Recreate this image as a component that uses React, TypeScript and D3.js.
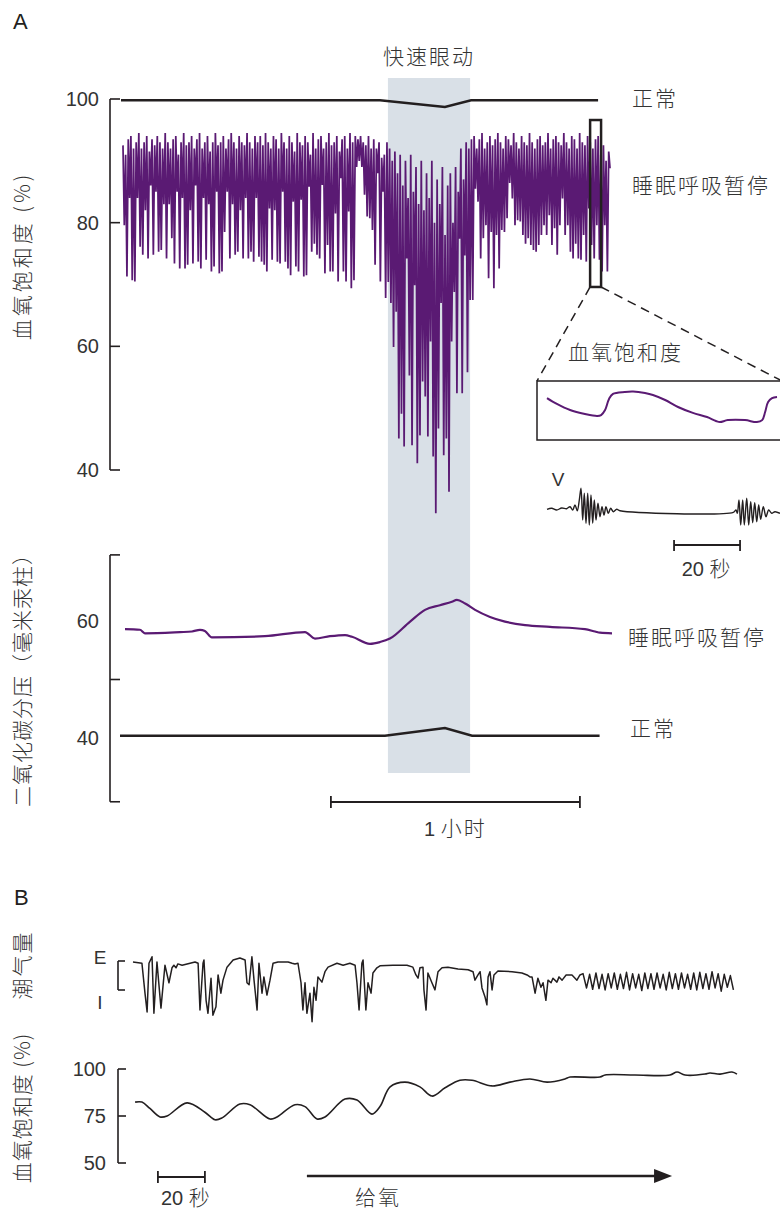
import React from "react";
import * as d3 from "d3";

// ---------------- Panel A: SaO2 (%) vs time (hours) ----------------
const remWindow = [1.076, 1.406];
const satTicks = [100, 80, 60, 40];
const normalSatTime = [0.004, 1.044, 1.305, 1.41, 1.92];
const normalSatValue = [99.8, 99.8, 98.7, 99.8, 99.8];
const apneaSpan = [0.012, 1.968];

const apneaHighs = [
  // before REM
  92.5, 91, 93.5, 94, 92, 93, 94.5, 92, 93, 94, 91.5, 93.5, 92.5, 94, 93, 92, 94.5, 93, 92, 93.5,
  94, 91, 93, 94.5, 92.5, 93, 94, 92, 93.5, 94.5, 92, 93, 94, 91.5, 93, 94.5, 92.5, 93, 94, 92,
  93.5, 94.5, 93, 92, 94, 93, 92.5, 94.5, 93, 92, 94,
  93, 94, 92.5, 94.5, 93, 92, 94, 93.5, 92, 94.5, 93, 92, 94, 93, 91.5, 94.5, 93, 92.5, 94, 93,
  91, 94.5, 92, 93.5, 94, 92, 93, 94.5, 92.5, 93, 94, 91.5, 93.5, 94, 92, 94.5, 93, 94, 93.5, 94,
  93, 92.5, 94, 92, 93.5, 92, 93, 90.5, 91,
  // REM
  93, 92, 90, 91.5, 88, 91, 86, 90, 84, 91, 85, 89, 83, 90, 82, 88, 84, 90, 80, 87,
  83, 89, 78, 86, 88, 80, 89, 85, 92, 87, 93, 92,
  // after REM
  93.5, 94, 92, 93.5, 94.5, 92, 93, 94, 92.5, 93.5, 94.5, 93, 92, 94, 93.5, 92.5, 94.5, 93, 92, 94,
  93, 92.5, 94.5, 93, 92, 93.5, 94, 92.5, 93, 94.5, 92, 93.5, 94, 93, 92.5, 94.5, 93, 92, 94, 93.5,
  92, 94.5, 93, 92.5, 94, 93, 92, 93.5, 94, 91, 92.5, 90, 91.5,
];
const apneaLows = [
  79.6, 71.3, 84, 70.7, 70.5, 84, 76.1, 74.8, 82, 74.2, 86, 74.8, 85, 75.3, 75.6, 83, 74.2, 83, 77.5, 73.4,
  85, 72.6, 84, 72.6, 73.2, 82, 73.4, 86, 73.7, 72.6, 84, 74.0, 83, 72.1, 72.9, 85, 71.8, 72.1, 78.5, 85,
  74.2, 83, 74.8, 75.3, 82, 74.2, 84, 74.2, 75.3, 73.7, 84,
  74.5, 73.7, 73.2, 72.1, 82.3, 74.0, 82.0, 73.7, 73.4, 85.0, 73.7, 72.6, 71.5, 83.4, 72.9, 72.1, 83.7, 71.3, 71.5, 85.8,
  75.3, 76.6, 74.8, 74.2, 86.1, 71.8, 76.4, 72.1, 72.1, 81.5, 70.5, 87.2, 72.1, 70.5, 81.8, 69.4, 70.7, 89, 90, 89,
  84.5, 81.0, 80.7, 78.8, 73.2, 88.0, 70.5, 85.0, 67.8,
  70.4, 67, 59.9, 65.6, 45.1, 49.1, 43.8, 74.2, 55.3, 44, 69.9, 41.1, 45.6, 54.3, 51.9, 45.4, 60.8, 42.2, 33, 46.7,
  67, 42.4, 45.1, 36.5, 60.8, 68.8, 52.4, 77.4, 52.4, 74.7, 55.8, 67.5,
  67.5, 85.5, 83.4, 74.2, 77.5, 79.6, 71.0, 78.5, 69.4, 78.0, 72.6, 78.8, 78.5, 80.7, 86.4, 83.9, 79.6, 80.4, 80.2, 78.0,
  76.6, 77.5, 76.4, 75.6, 75.3, 76.4, 78.0, 79.6, 78.0, 81.2, 76.4, 79.1, 74.8, 79.6, 83.9, 78.0, 79.6, 75.3, 74.2, 76.6,
  74.2, 74.0, 78.0, 73.7, 82.3, 76.4, 74.2, 79.6, 74.0, 72.1, 79.6, 72.1, 88.8,
];

// ---------------- Panel A: PaCO2 (mmHg) ----------------
const co2Labeled = [60, 40];
const co2Ticks = [71.3, 50, 29.1];
const co2ApneaTime = [
  0.02, 0.08, 0.1, 0.241, 0.289, 0.321, 0.341, 0.369, 0.582, 0.743, 0.783, 0.843, 0.904, 0.932, 1.004, 1.044,
  1.084, 1.165, 1.225, 1.285, 1.333, 1.353, 1.386, 1.426, 1.486, 1.546, 1.627, 1.727, 1.867, 1.908, 1.928, 1.976,
];
const co2ApneaValue = [
  58.6, 58.5, 57.9, 58.1, 58.2, 58.5, 58.3, 57.2, 57.4, 58.1, 57.0, 57.4, 57.6, 57.3, 56.1, 56.4,
  57.0, 59.9, 61.9, 62.7, 63.3, 63.6, 63.0, 61.9, 60.7, 59.9, 59.3, 59.0, 58.6, 58.2, 58.0, 57.9,
];
const co2NormalTime = [0.0, 1.064, 1.305, 1.414, 1.926];
const co2NormalValue = [40.4, 40.4, 41.7, 40.4, 40.4];
const hourBar = [0.847, 1.847];

// ---------------- Inset (seconds) ----------------
const zoomWindow = [1.888, 1.932, 69.6, 96.6];
const insetTime = [
  0, 3.0, 7.0, 11.5, 15.2, 16.4, 17.6, 18.8, 20.0, 23.6, 26.1, 29.7, 32.1, 35.8, 39.7, 44.2, 48.5, 51.2,
  52.4, 54.8, 60.0, 63.6, 65.2, 66.1, 67.0, 68.2, 69.7,
];
const insetSat = [
  88.8, 86.1, 83.3, 81.5, 80.6, 81.0, 83.3, 88.4, 90.7, 91.6, 91.8, 91.1, 90.2, 87.9, 84.7, 82.0, 80.1, 78.3,
  77.8, 78.7, 78.7, 77.8, 78.7, 82.4, 87.0, 88.8, 89.3,
];
const ventTime = [
  0, 1.42, 2.94, 4.45, 5.97, 6.97, 7.79, 8.48, 9.18, 9.79, 10.3, 10.82, 11.3, 11.82, 12.33, 12.82, 13.33, 13.85,
  14.33, 14.85, 15.45, 16.06, 16.67, 17.27, 17.88, 18.58, 19.3, 20.1, 21.12, 22.12, 56.45, 57.27, 57.67, 58.18,
  58.7, 59.3, 59.79, 60.52, 61.12, 61.73, 62.33, 62.94, 63.55, 64.15, 64.76, 65.55, 66.36, 67.18, 68.09, 69.09, 70.6,
];
const ventValue = [
  0.17, 0.27, 0.1, 0.3, 0.23, 0.43, 0.1, 0.6, 0.03, 1.1, 2.27, -0.9, 1.77, -1.23, 1.77, -1.4, 1.6, -1.23,
  1.1, -0.9, 0.77, -0.57, 0.43, -0.4, 0.43, -0.23, 0.27, -0.07, 0.17, 0.03, -0.13, 0.1, -0.23, 1.1,
  -1.4, 1.1, -1.4, 1.27, -1.4, 0.93, -1.17, 0.83, -1.07, 0.6, -0.83, 0.43, -0.57, 0.1, -0.23, -0.07, -0.23,
];
const insetScaleBar = [38.5, 58.5];

// ---------------- Panel B (seconds) ----------------
const tidalTime = [
  0, 3.8, 5.1, 6.0, 6.8, 8.1, 8.9, 10.2, 11.9, 13.6, 15.3, 16.6, 17.4, 18.3, 19.1, 20.9, 26.4, 27.7, 28.5, 29.8,
  30.2, 31.1, 31.9, 33.2, 34.0, 35.3, 36.2, 37.4, 38.3, 40.0, 42.6, 45.5, 47.7, 48.5, 49.4, 50.6, 51.5, 52.8, 53.6, 54.9,
  55.7, 57.0, 58.3, 59.6, 61.7, 66.0, 67.7, 68.9, 70.2, 71.5, 72.3, 73.2, 74.0, 75.3, 76.2, 77.0, 77.9, 78.7, 80.4, 81.7,
  83.0, 86.8, 89.4, 92.3, 94.5, 95.3, 96.2, 97.4, 97.9, 99.1, 100.0, 101.3, 102.1, 103.8, 105.1, 110.6, 116.6, 119.1, 120.4, 121.3,
  122.1, 123.4, 123.8, 124.7, 125.5, 127.2, 128.5, 129.8, 131.5, 134.0, 138.3, 142.6, 144.7, 145.5, 146.8, 147.7, 148.5, 149.8, 150.6, 151.1,
  151.9, 152.8, 153.6, 155.3, 161.3, 165.5, 167.7, 168.9, 169.8, 171.1, 172.3, 173.6, 174.5, 175.7, 176.6, 177.9, 178.7, 180.4, 181.3, 182.6,
  184.3, 186.8, 188.9, 190.2,
  191.5, 193, 194.3, 195.6, 197, 198.3, 199.6, 200.9, 202.2, 203.5, 204.8, 206.1, 207.4, 208.7, 210, 211.3, 212.6, 213.9, 215.2, 216.5,
  217.8, 219.1, 220.4, 221.7, 223, 224.3, 225.6, 226.9, 228.2, 229.5, 230.8, 232.1, 233.4, 234.7, 236, 237.3, 238.6, 239.9, 241.2, 242.5,
  243.8, 245.1, 246.4, 247.7, 249, 250.3, 251.6, 252.9, 254.2, 255.5,
];
const tidalValue = [
  97, 95, 49, 20, 95, 105, 18, 97, 26, 92, 65, 88, 92, 88, 94, 92, 97, 95, 23, 95,
  100, 38, 18, 72, 15, 28, 77, 49, 69, 89, 100, 103, 100, 65, 62, 105, 69, 23, 95, 49,
  74, 46, 69, 95, 97, 97, 95, 94, 95, 65, 23, 65, 18, 49, 5, 58, 38, 74, 66, 82,
  89, 95, 92, 95, 92, 65, 23, 95, 100, 23, 65, 49, 80, 88, 91, 92, 92, 89, 77, 72,
  88, 89, 54, 23, 80, 65, 54, 82, 88, 89, 86, 85, 82, 69, 77, 82, 57, 43, 31, 74,
  82, 54, 77, 83, 82, 80, 77, 74, 74, 49, 72, 58, 65, 38, 69, 65, 72, 66, 74, 69,
  77, 77, 69, 77,
  79, 57, 78, 55, 80, 56, 78, 54, 79, 57, 80, 55, 78, 56, 81, 54, 79, 57, 78, 53,
  80, 56, 79, 55, 80, 57, 78, 54, 81, 56, 79, 55, 80, 57, 78, 55, 80, 54, 81, 56,
  79, 55, 82, 57, 79, 52, 78, 58, 76, 54,
];
const satBTicks = [100, 75, 50];
const satBTime = [
  0.9, 3.8, 7.2, 11.5, 14.5, 23.0, 30.6, 34.9, 37.9, 45.5, 49.8, 58.3, 61.3, 68.9, 73.2, 78.3, 81.7, 90.2, 95.3, 101.7,
  105.1, 109.4, 115.7, 122.1, 127.2, 132.8, 139.1, 144.3, 152.8, 160.4, 168.9, 176.2, 183.8, 186.0, 198.7, 200.9, 213.6, 228.5,
  231.5, 234.9, 243.4, 245.5, 249.8, 254.9, 257.0,
];
const satBValue = [
  82.4, 82.4, 79, 74.5, 75, 82, 77, 73, 74, 81.4, 81, 73.4, 74.5, 81, 80, 73.4, 74.5, 84, 83.5, 76,
  80, 90.5, 93, 90.5, 85.6, 90, 94, 94, 91, 93, 94.7, 93, 94.7, 95.7, 95.7, 96.8, 96.8, 96.8,
  98.4, 96.8, 97.3, 97.9, 97.3, 98.4, 97.3,
];
const bScaleBar = [10.6, 30.6];
const oxygenWindow = [74, 229.4];

const PURPLE = "#5a1a73";
const INK = "#231f20";
const TEXT = "#333";
const NUM = "'Liberation Sans Narrow', 'Liberation Sans', Arial, sans-serif";
const CJK = "'Noto Sans CJK SC', 'Noto Sans', sans-serif";

export default function App() {
  // Panel A scales
  const xA = d3.scaleLinear().domain([0, 1]).range([120, 369]);
  const ySat = d3.scaleLinear().domain([40, 100]).range([470, 99]);
  const yCo2 = d3.scaleLinear().domain([40, 60]).range([738, 621]);

  const apneaSeq: number[] = [];
  apneaHighs.forEach((h, i) => {
    apneaSeq.push(h, apneaLows[i]);
  });
  const idxToT = d3.scaleLinear().domain([0, apneaSeq.length - 1]).range(apneaSpan);
  const apneaLine = d3
    .line<number>()
    .x((_, i) => xA(idxToT(i)))
    .y((v) => ySat(v));

  const pairLine = (xs: number[], ys: number[], sx: any, sy: any, curve: any = d3.curveLinear) =>
    d3
      .line<number>()
      .x((t) => sx(t))
      .y((_, i) => sy(ys[i]))
      .curve(curve)(xs) as string;

  // inset scales
  const xIn = d3.scaleLinear().domain([0, 20]).range([547, 613]);
  const yIn = d3.scaleLinear().domain([zoomWindow[2], zoomWindow[3]]).range([440, 381]);
  const yV = d3.scaleLinear().domain([-1, 1]).range([521, 501]);

  // panel B scales
  const xB = d3.scaleLinear().domain([0, 20]).range([133, 180]);
  const yT = d3.scaleLinear().domain([0, 100]).range([1025, 960]);
  const yB = d3.scaleLinear().domain([50, 100]).range([1163, 1069]);

  const boxX0 = xA(zoomWindow[0]);
  const boxX1 = xA(zoomWindow[1]);
  const boxY0 = ySat(zoomWindow[3]);
  const boxY1 = ySat(zoomWindow[2]);

  const cjk = { fontFamily: CJK, fontSize: 21, letterSpacing: 2, fill: TEXT, fontWeight: 300 } as const;
  const num = { fontFamily: NUM, fontSize: 20, fill: TEXT } as const;

  const ox0 = xB(oxygenWindow[0]);
  const ox1 = xB(oxygenWindow[1]);

  return (
    <svg
      width={780}
      height={1210}
      style={{ position: "absolute", left: 0, top: 0, background: "#fff" }}
    >
      {/* panel letters */}
      <text x={13} y={29} fontFamily="'Liberation Sans', Arial, sans-serif" fontSize={22} fill={INK}>A</text>
      <text x={14} y={905} fontFamily="'Liberation Sans', Arial, sans-serif" fontSize={22} fill={INK}>B</text>

      {/* REM band */}
      <rect x={xA(remWindow[0])} y={78} width={xA(remWindow[1]) - xA(remWindow[0])} height={695} fill="#d9e0e7" />
      <text x={(xA(remWindow[0]) + xA(remWindow[1])) / 2} y={64} textAnchor="middle" {...cjk}>快速眼动</text>

      {/* SaO2 axis */}
      <line x1={110} x2={110} y1={ySat(100)} y2={ySat(40)} stroke={INK} strokeWidth={1.6} />
      {satTicks.map((t) => (
        <g key={t}>
          <line x1={110} x2={120} y1={ySat(t)} y2={ySat(t)} stroke={INK} strokeWidth={1.6} />
          <text x={99} y={ySat(t) + 7} textAnchor="end" {...num}>{t}</text>
        </g>
      ))}
      <text transform="translate(30,256) rotate(-90)" textAnchor="middle" {...cjk} letterSpacing={3}>血氧饱和度 (%)</text>

      {/* apnea SaO2 trace */}
      <path d={apneaLine(apneaSeq) as string} fill="none" stroke={PURPLE} strokeWidth={1.75} strokeLinejoin="miter" />
      {/* normal SaO2 */}
      <path d={pairLine(normalSatTime, normalSatValue, xA, ySat)} fill="none" stroke={INK} strokeWidth={2.5} />
      <text x={632} y={106} {...cjk}>正常</text>
      <text x={632} y={193} {...cjk}>睡眠呼吸暂停</text>

      {/* zoom box and dashed connectors */}
      <rect x={boxX0} y={boxY0} width={boxX1 - boxX0} height={boxY1 - boxY0} fill="none" stroke={INK} strokeWidth={2.5} />
      <line x1={boxX0} y1={boxY1} x2={537} y2={381} stroke={INK} strokeWidth={1.5} strokeDasharray="9 6" />
      <line x1={boxX1} y1={boxY1} x2={782} y2={381} stroke={INK} strokeWidth={1.5} strokeDasharray="9 6" />
      <text x={568} y={360} {...cjk}>血氧饱和度</text>
      <rect x={537} y={381} width={260} height={59} fill="#fff" stroke={INK} strokeWidth={1.5} />
      <path d={pairLine(insetTime, insetSat, xIn, yIn, d3.curveCatmullRom)} fill="none" stroke={PURPLE} strokeWidth={2} />

      {/* ventilation */}
      <text x={558} y={486} textAnchor="middle" fontFamily="'Liberation Sans', Arial, sans-serif" fontSize={19} fill={TEXT}>V</text>
      <path d={pairLine(ventTime, ventValue, xIn, yV, d3.curveCatmullRom)} fill="none" stroke={INK} strokeWidth={1.4} />
      <line x1={xIn(insetScaleBar[0])} x2={xIn(insetScaleBar[1])} y1={545} y2={545} stroke={INK} strokeWidth={1.8} />
      <line x1={xIn(insetScaleBar[0])} x2={xIn(insetScaleBar[0])} y1={540} y2={551} stroke={INK} strokeWidth={1.8} />
      <line x1={xIn(insetScaleBar[1])} x2={xIn(insetScaleBar[1])} y1={540} y2={551} stroke={INK} strokeWidth={1.8} />
      <text x={(xIn(insetScaleBar[0]) + xIn(insetScaleBar[1])) / 2} y={576} textAnchor="middle">
        <tspan {...num}>20 </tspan>
        <tspan {...cjk}>秒</tspan>
      </text>

      {/* CO2 axis */}
      <line x1={110} x2={110} y1={yCo2(co2Ticks[0])} y2={yCo2(co2Ticks[2])} stroke={INK} strokeWidth={1.6} />
      {co2Ticks.map((t) => (
        <line key={t} x1={110} x2={120} y1={yCo2(t)} y2={yCo2(t)} stroke={INK} strokeWidth={1.6} />
      ))}
      {co2Labeled.map((t) => (
        <text key={t} x={99} y={yCo2(t) + 7} textAnchor="end" {...num}>{t}</text>
      ))}
      <text transform="translate(30,675) rotate(-90)" textAnchor="middle" {...cjk} letterSpacing={1}>二氧化碳分压（毫米汞柱）</text>

      <path d={pairLine(co2ApneaTime, co2ApneaValue, xA, yCo2, d3.curveMonotoneX)} fill="none" stroke={PURPLE} strokeWidth={2.2} />
      <path d={pairLine(co2NormalTime, co2NormalValue, xA, yCo2)} fill="none" stroke={INK} strokeWidth={2.5} />
      <text x={628} y={645} {...cjk}>睡眠呼吸暂停</text>
      <text x={630} y={736} {...cjk}>正常</text>

      {/* 1 hour bar */}
      <line x1={xA(hourBar[0])} x2={xA(hourBar[1])} y1={802} y2={802} stroke={INK} strokeWidth={1.8} />
      <line x1={xA(hourBar[0])} x2={xA(hourBar[0])} y1={796} y2={808} stroke={INK} strokeWidth={1.8} />
      <line x1={xA(hourBar[1])} x2={xA(hourBar[1])} y1={796} y2={808} stroke={INK} strokeWidth={1.8} />
      <text x={(xA(hourBar[0]) + xA(hourBar[1])) / 2} y={836} textAnchor="middle">
        <tspan {...num}>1 </tspan>
        <tspan {...cjk}>小时</tspan>
      </text>

      {/* Panel B: tidal volume */}
      <text transform="translate(30,965) rotate(-90)" textAnchor="middle" {...cjk}>潮气量</text>
      <text x={100} y={964} textAnchor="middle" fontFamily="'Liberation Sans', Arial, sans-serif" fontSize={19} fill={TEXT}>E</text>
      <text x={100} y={1009} textAnchor="middle" fontFamily="'Liberation Sans', Arial, sans-serif" fontSize={19} fill={TEXT}>I</text>
      <line x1={118} x2={118} y1={961} y2={990} stroke={INK} strokeWidth={1.6} />
      <line x1={118} x2={125} y1={961} y2={961} stroke={INK} strokeWidth={1.6} />
      <line x1={118} x2={125} y1={990} y2={990} stroke={INK} strokeWidth={1.6} />
      <path d={pairLine(tidalTime, tidalValue, xB, yT)} fill="none" stroke={INK} strokeWidth={1.5} strokeLinejoin="round" />

      {/* Panel B: saturation */}
      <line x1={118} x2={118} y1={yB(100)} y2={yB(50)} stroke={INK} strokeWidth={1.6} />
      {satBTicks.map((t) => (
        <g key={t}>
          <line x1={118} x2={126} y1={yB(t)} y2={yB(t)} stroke={INK} strokeWidth={1.6} />
          <text x={106} y={yB(t) + 7} textAnchor="end" {...num}>{t}</text>
        </g>
      ))}
      <text transform="translate(30,1108) rotate(-90)" textAnchor="middle" {...cjk} letterSpacing={1}>血氧饱和度 (%)</text>
      <path d={pairLine(satBTime, satBValue, xB, yB, d3.curveCatmullRom)} fill="none" stroke={INK} strokeWidth={1.6} />

      {/* 20 s bar */}
      <line x1={xB(bScaleBar[0])} x2={xB(bScaleBar[1])} y1={1177} y2={1177} stroke={INK} strokeWidth={1.8} />
      <line x1={xB(bScaleBar[0])} x2={xB(bScaleBar[0])} y1={1171} y2={1183} stroke={INK} strokeWidth={1.8} />
      <line x1={xB(bScaleBar[1])} x2={xB(bScaleBar[1])} y1={1171} y2={1183} stroke={INK} strokeWidth={1.8} />
      <text x={(xB(bScaleBar[0]) + xB(bScaleBar[1])) / 2 + 5} y={1205} textAnchor="middle">
        <tspan {...num}>20 </tspan>
        <tspan {...cjk}>秒</tspan>
      </text>

      {/* oxygen arrow */}
      <line x1={ox0} x2={ox1 - 14} y1={1176} y2={1176} stroke={INK} strokeWidth={2.6} />
      <path d={`M${ox1},1176 L${ox1 - 18},1169 L${ox1 - 18},1183 Z`} fill={INK} />
      <text x={378} y={1205} textAnchor="middle" {...cjk}>给氧</text>
    </svg>
  );
}
